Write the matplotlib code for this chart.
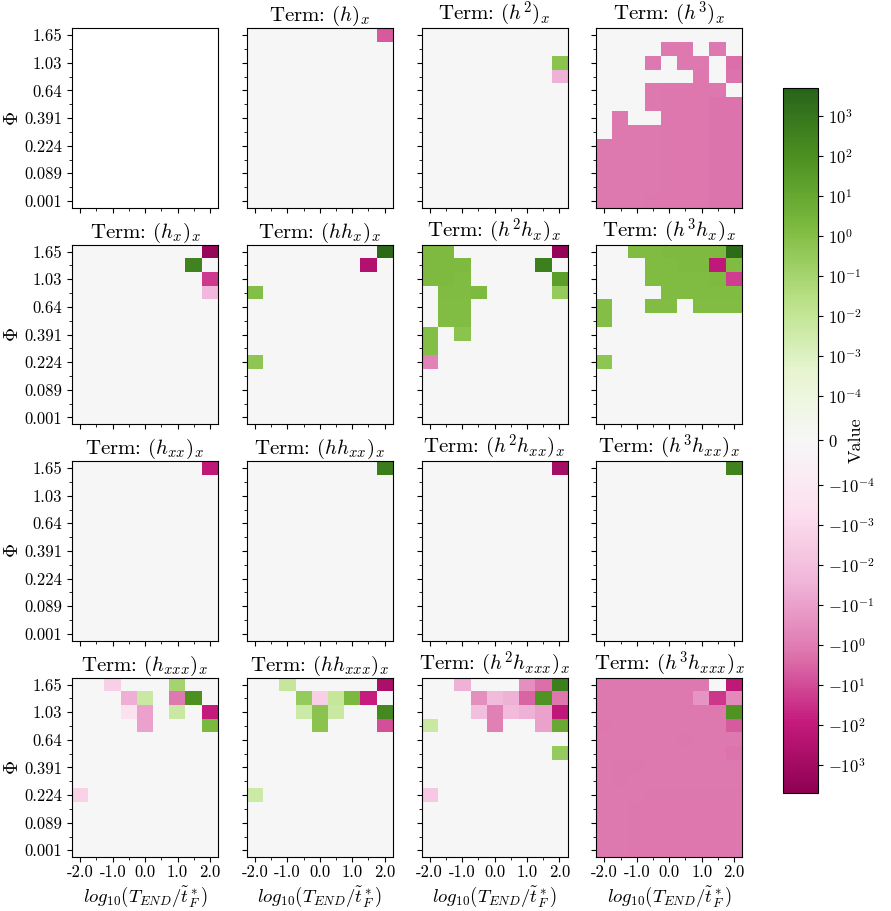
import numpy as np
import matplotlib
matplotlib.use("Agg")
import matplotlib.pyplot as plt
from matplotlib.colors import SymLogNorm

plt.rcParams['font.family'] = 'serif'
plt.rcParams['font.serif'] = ['cmr10']
plt.rcParams['mathtext.fontset'] = 'cm'
plt.rcParams['axes.formatter.use_mathtext'] = True

N_ROWS, N_COLS = 13, 9

# axis labels (rows listed top to bottom, labels on every other row/column)
x_labels = ['-2.0', '-1.0', '0.0', '1.0', '2.0']
phi_labels = ['1.65', '1.03', '0.64', '0.391', '0.224', '0.089', '0.001']

titles = ['', r'$(h)_x$', r'$(h^2)_x$', r'$(h^3)_x$',
          r'$(h_x)_x$', r'$(hh_x)_x$', r'$(h^2h_x)_x$', r'$(h^3h_x)_x$',
          r'$(h_{xx})_x$', r'$(hh_{xx})_x$', r'$(h^2h_{xx})_x$', r'$(h^3h_{xx})_x$',
          r'$(h_{xxx})_x$', r'$(hh_{xxx})_x$', r'$(h^2h_{xxx})_x$', r'$(h^3h_{xxx})_x$']

# sparse panels: (row from top, column, value), everything else is 0
h_x = [(0, 8, -5.0)]
h2_x = [(2, 8, 0.6), (3, 8, -0.03)]
hx_x = [(0, 8, -2000), (1, 7, 300), (2, 8, -20), (3, 8, -0.02)]
hhx_x = [(0, 8, 3000), (1, 7, -300), (3, 0, 1.0), (8, 0, 0.5)]
h2hx_x = [(0, 0, 1.8), (0, 1, 1.8), (0, 8, -3000),
          (1, 0, 1.8), (1, 1, 1.8), (1, 2, 1.6), (1, 7, 400),
          (2, 0, 1.7), (2, 1, 1.6), (2, 2, 1.5), (2, 8, 25),
          (3, 1, 1.5), (3, 2, 1.5), (3, 3, 1.6), (3, 8, 0.3),
          (4, 1, 1.3), (4, 2, 1.3), (5, 1, 1.2), (5, 2, 1.2),
          (6, 0, 1.0), (6, 2, 0.6), (7, 0, 1.0), (8, 0, -0.6)]
h3hx_x = [(0, 2, 1.5), (0, 3, 1.5), (0, 4, 1.6), (0, 5, 1.6), (0, 6, 1.6), (0, 7, 1.6), (0, 8, 2500),
          (1, 3, 1.5), (1, 4, 1.5), (1, 5, 1.6), (1, 6, 1.6), (1, 7, -120), (1, 8, 1.4),
          (2, 3, 1.5), (2, 4, 1.5), (2, 5, 1.5), (2, 6, 1.5), (2, 7, 1.6), (2, 8, -17),
          (3, 4, 1.5), (3, 5, 1.5), (3, 6, 1.5), (3, 7, 1.5), (3, 8, 1.4),
          (4, 0, 1.0), (4, 3, 1.2), (4, 4, 1.2), (4, 6, 1.3), (4, 7, 1.3), (4, 8, 1.3),
          (5, 0, 1.0), (8, 0, 0.5)]
hxx_x = [(0, 8, -130)]
hhxx_x = [(0, 8, 500)]
h2hxx_x = [(0, 8, -800)]
h3hxx_x = [(0, 8, 300)]
hxxx_x = [(0, 2, -0.0023), (0, 6, 0.09), (1, 3, -0.04), (1, 4, 0.006), (1, 6, -1.2), (1, 7, 90),
          (2, 3, -0.0003), (2, 4, -0.09), (2, 6, 0.006), (2, 8, -90),
          (3, 4, -0.09), (3, 8, 2.0), (8, 0, -0.0015)]
hhxxx_x = [(0, 2, 0.008), (0, 8, -500), (1, 3, 0.3), (1, 4, -0.002), (1, 5, 0.008), (1, 6, 2.0),
           (1, 7, -80), (2, 3, 0.004), (2, 4, 0.6), (2, 5, 0.006), (2, 8, 200),
           (3, 4, 0.6), (3, 8, -8), (8, 0, 0.004)]
h2hxxx_x = [(0, 2, -0.03), (0, 6, -0.3), (0, 7, -2.0), (0, 8, 400),
            (1, 3, -0.3), (1, 4, -0.015), (1, 5, -0.03), (1, 6, -3.0), (1, 7, 60), (1, 8, -1.5),
            (2, 3, -0.01), (2, 4, -0.7), (2, 5, -0.015), (2, 6, -0.03), (2, 7, -0.1), (2, 8, -120),
            (3, 0, 0.006), (3, 4, -0.7), (3, 7, -0.1), (3, 8, 8), (5, 8, 0.3), (8, 0, -0.004)]

# dense panels
h3_x = [[0, 0, 0, 0, 0, 0, 0, 0, 0],
        [0, 0, 0, 0, -1.3, -1.3, 0, -1.3, 0],
        [0, 0, 0, -1.3, 0, -1.3, -1.3, 0, -2.0],
        [0, 0, 0, 0, 0, 0, -1.4, 0, -1.8],
        [0, 0, 0, -1.3, -1.4, -1.4, -1.5, -1.5, 0],
        [0, 0, 0, -1.3, -1.4, -1.5, -1.5, -1.6, -1.6],
        [0, -1.2, 0, 0, -1.4, -1.5, -1.5, -1.6, -1.6],
        [0, -1.2, -1.2, -1.3, -1.4, -1.5, -1.5, -1.6, -1.6],
        [-1.2, -1.2, -1.3, -1.3, -1.4, -1.5, -1.5, -1.6, -1.6],
        [-1.2, -1.2, -1.3, -1.3, -1.4, -1.5, -1.5, -1.6, -1.6],
        [-1.2, -1.2, -1.3, -1.3, -1.4, -1.5, -1.5, -1.6, -1.6],
        [-1.2, -1.2, -1.3, -1.3, -1.4, -1.4, -1.5, -1.6, -1.6],
        [-1.2, -1.2, -1.3, -1.4, -1.4, -1.4, -1.5, -1.6, -1.6]]
h3hxxx_x = [[-1.3, -1.3, -1.3, -1.3, -1.3, -1.3, -1.3, 0, -120],
            [-1.3, -1.3, -1.3, -1.3, -1.3, -1.3, -0.2, -25, -0.4],
            [-1.3, -1.3, -1.3, -1.3, -1.2, -1.3, -1.3, -1.3, 60],
            [-1.5, -1.3, -1.3, -1.3, -1.3, -1.3, -1.3, -1.2, -5],
            [-1.3, -1.3, -1.3, -1.3, -1.3, -1.5, -1.3, -1.3, -1.3],
            [-1.3, -1.3, -1.3, -1.3, -1.3, -1.3, -1.3, -1.3, -1.7],
            [-1.3, -1.5, -1.4, -1.3, -1.3, -1.3, -1.3, -1.3, -1.3],
            [-1.3, -1.5, -1.3, -1.3, -1.3, -1.3, -1.3, -1.3, -1.3],
            [-1.3, -1.3, -1.3, -1.4, -1.4, -1.4, -1.4, -1.4, -1.4],
            [-1.3, -1.3, -1.4, -1.4, -1.4, -1.4, -1.4, -1.4, -1.4],
            [-1.3, -1.3, -1.4, -1.4, -1.4, -1.5, -1.5, -1.5, -1.5],
            [-1.3, -1.3, -1.4, -1.4, -1.4, -1.5, -1.5, -1.5, -1.5],
            [-1.3, -1.3, -1.4, -1.4, -1.4, -1.5, -1.5, -1.5, -1.5]]

cbar_ticks = [-1e3, -1e2, -1e1, -1e0, -1e-1, -1e-2, -1e-3, -1e-4, 0,
              1e-4, 1e-3, 1e-2, 1e-1, 1e0, 1e1, 1e2, 1e3]
cbar_labels = [r'$-10^{3}$', r'$-10^{2}$', r'$-10^{1}$', r'$-10^{0}$', r'$-10^{-1}$',
               r'$-10^{-2}$', r'$-10^{-3}$', r'$-10^{-4}$', r'$0$',
               r'$10^{-4}$', r'$10^{-3}$', r'$10^{-2}$', r'$10^{-1}$',
               r'$10^{0}$', r'$10^{1}$', r'$10^{2}$', r'$10^{3}$']


def sparse_grid(cells):
    g = np.zeros((N_ROWS, N_COLS))
    for r, c, v in cells:
        g[r, c] = v
    return g


panels = [None, sparse_grid(h_x), sparse_grid(h2_x), np.array(h3_x),
          sparse_grid(hx_x), sparse_grid(hhx_x), sparse_grid(h2hx_x), sparse_grid(h3hx_x),
          sparse_grid(hxx_x), sparse_grid(hhxx_x), sparse_grid(h2hxx_x), sparse_grid(h3hxx_x),
          sparse_grid(hxxx_x), sparse_grid(hhxxx_x), sparse_grid(h2hxxx_x), np.array(h3hxxx_x)]

norm = SymLogNorm(linthresh=1e-4, linscale=1, vmin=-5000, vmax=5000, base=10)

fig, axes = plt.subplots(4, 4, figsize=(8.91, 9.11), dpi=100, sharex=True, sharey=True)
fig.subplots_adjust(left=0.081, right=0.833, top=0.969, bottom=0.059, wspace=0.197, hspace=0.205)

im = None
for i, ax in enumerate(axes.flat):
    data = panels[i]
    if data is not None:
        im = ax.imshow(data, cmap='PiYG', norm=norm, aspect='auto', interpolation='nearest')
        ax.set_title('Term: ' + titles[i], fontsize=15, pad=2)
    ax.set_xlim(-0.5, N_COLS - 0.5)
    ax.set_ylim(N_ROWS - 0.5, -0.5)
    ax.set_xticks(np.arange(0, N_COLS, 2))
    ax.set_xticks(np.arange(1, N_COLS, 2), minor=True)
    ax.set_yticks(np.arange(0, N_ROWS, 2))
    ax.set_yticks(np.arange(1, N_ROWS, 2), minor=True)
    ax.set_xticklabels(x_labels)
    ax.set_yticklabels(phi_labels)
    ax.tick_params(labelsize=12)
    ax.tick_params(axis='x', pad=2)
    if i % 4 == 0:
        ax.set_ylabel(r'$\Phi$', fontsize=14, labelpad=2)
    if i >= 12:
        ax.set_xlabel(r'$log_{10}(T_{END}/\tilde{t}^*_F)$', fontsize=13.5, labelpad=3)

cax = fig.add_axes([0.8788, 0.1295, 0.0393, 0.774])
cbar = fig.colorbar(im, cax=cax, ticks=cbar_ticks)
cbar.ax.set_yticklabels(cbar_labels)
cbar.ax.minorticks_off()
cbar.ax.tick_params(labelsize=12)
cbar.set_label('Value', fontsize=13)
cbar.ax.yaxis.set_label_coords(1.86, 0.5)

plt.savefig('out.png', dpi=100)
